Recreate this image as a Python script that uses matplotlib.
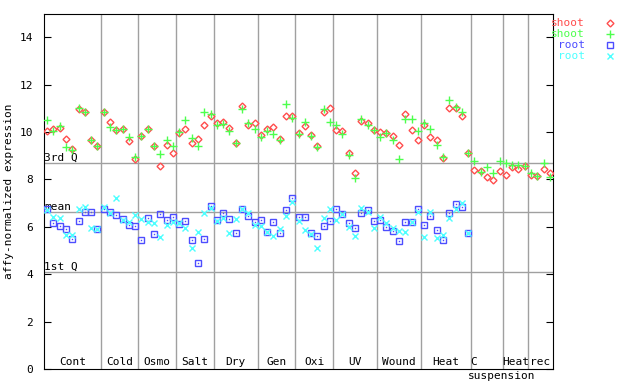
import numpy as np
import matplotlib
matplotlib.use("Agg")
import matplotlib.pyplot as plt

plt.rcParams['font.family'] = ['DejaVu Sans Mono']
plt.rcParams['font.size'] = 8

groups = ['Cont', 'Cold', 'Osmo', 'Salt', 'Dry', 'Gen', 'Oxi', 'UV', 'Wound', 'Heat', 'C', 'Heat', 'rec']
group_sizes = [9, 6, 6, 6, 7, 6, 6, 7, 7, 8, 5, 4, 4]

shoot_a = [10.04, 10.11, 10.18, 9.69, 9.28, 10.96, 10.83, 9.65, 9.42,
           10.84, 10.41, 10.08, 10.13, 9.62, 8.87,
           9.85, 10.14, 9.40, 8.57, 9.45, 9.11,
           9.94, 10.11, 9.52, 9.69, 10.28, 10.66,
           10.37, 10.41, 10.16, 9.52, 11.10, 10.28, 10.37,
           9.86, 10.11, 10.20, 9.69, 10.66, 10.66,
           9.94, 10.24, 9.86, 9.40, 10.83, 11.00,
           10.07, 10.03, 9.10, 8.27, 10.45, 10.37, 10.07,
           9.98, 9.94, 9.82, 9.44, 10.75, 10.07, 9.65,
           10.28, 9.78, 9.65, 8.89, 11.00, 11.00, 10.66, 9.10,
           8.38, 8.34, 8.09, 7.96, 8.34,
           8.17, 8.51, 8.43, 8.55,
           8.17, 8.13, 8.43, 8.26]
shoot_b = [10.49, 10.06, 10.25, 9.35, 9.23, 11.03, 10.83, 9.65, 9.42,
           10.83, 10.20, 10.08, 10.14, 9.80, 8.95,
           9.85, 10.14, 9.40, 9.06, 9.65, 9.40,
           9.98, 10.49, 9.73, 9.40, 10.83, 10.75,
           10.28, 10.32, 10.03, 9.52, 10.96, 10.37, 10.14,
           9.78, 10.03, 9.90, 9.65, 11.17, 10.58,
           9.90, 10.41, 9.82, 9.35, 10.96, 10.41,
           10.28, 9.90, 9.02, 8.07, 10.54, 10.28, 10.07,
           9.78, 9.94, 9.65, 8.85, 10.54, 10.54, 10.03,
           10.37, 10.14, 9.44, 8.93, 11.34, 11.04, 10.83, 9.10,
           8.76, 8.30, 8.51, 8.26, 8.76,
           8.68, 8.59, 8.59, 8.55,
           8.26, 8.13, 8.68, 8.09]
root_a = [6.74, 6.15, 6.02, 5.89, 5.47, 6.23, 6.61, 6.61, 5.92,
          6.74, 6.61, 6.49, 6.32, 6.06, 6.02,
          5.43, 6.36, 5.68, 6.53, 6.27, 6.40,
          6.11, 6.23, 5.43, 4.46, 5.47, 6.86,
          6.27, 6.57, 6.32, 5.73, 6.74, 6.44, 6.19,
          6.27, 5.77, 6.19, 5.73, 6.70, 7.20,
          6.40, 6.40, 5.73, 5.60, 6.02, 6.23,
          6.74, 6.53, 6.15, 5.94, 6.57, 6.70, 6.23,
          6.27, 5.98, 5.81, 5.39, 6.19, 6.19, 6.74,
          6.06, 6.44, 5.85, 5.43, 6.57, 6.95, 6.82, 5.73]
root_b = [6.70, 6.40, 6.36, 5.64, 5.64, 6.74, 6.82, 5.94, 5.92,
          6.82, 6.60, 7.20, 6.27, 6.19, 6.49,
          6.32, 6.19, 6.15, 5.56, 6.06, 6.19,
          6.15, 5.94, 5.09, 5.77, 6.57, 6.78,
          6.23, 6.36, 5.73, 6.32, 6.74, 6.57, 6.06,
          6.02, 5.77, 5.60, 5.89, 6.44, 7.03,
          6.23, 5.85, 5.68, 5.09, 6.36, 6.74,
          6.27, 6.55, 5.98, 5.60, 6.78, 6.61, 5.94,
          6.40, 6.15, 5.94, 5.81, 5.77, 6.19, 6.61,
          5.56, 6.61, 5.51, 5.64, 6.36, 6.74, 6.99, 5.73]

quartiles = [('3rd Q', 8.68), ('mean', 6.62), ('1st Q', 4.08)]

RED = '#ff4d4d'
GREEN = '#4dff4d'
BLUE = '#4d4dff'
CYAN = '#4dffff'
GRID = '#a0a0a0'

fig = plt.figure(figsize=(6.4, 3.84), dpi=100)
ax = fig.add_axes([44 / 640, 15 / 384, 509 / 640, 355.5 / 384])

n = len(shoot_a)
ax.set_xlim(-0.5, n - 0.5)
ax.set_ylim(0, 15)

# group separators
bounds = np.cumsum(group_sizes)
for b in bounds[:-1]:
    ax.axvline(b - 0.5, color=GRID, lw=1, zorder=1)
for name, q in quartiles:
    ax.axhline(q, color=GRID, lw=1, zorder=1)
    ax.text(-0.45, q + 0.02, name, ha='left', va='bottom', zorder=2)

xs = np.arange(n)
xr = np.arange(len(root_a))
ax.plot(xs, shoot_a, ls='none', marker='D', ms=3.5, mfc='none', mec=RED, mew=1, zorder=3)
ax.plot(xs, shoot_b, ls='none', marker='+', ms=6, mec=GREEN, mew=1, zorder=4)
ax.plot(xr, root_a, ls='none', marker='s', ms=4.5, mfc='none', mec=BLUE, mew=1, zorder=3)
ax.plot(xr, root_a, ls='none', marker='s', ms=1, mfc=BLUE, mec=BLUE, mew=0, zorder=3)
ax.plot(xr, root_b, ls='none', marker='x', ms=5, mec=CYAN, mew=1, zorder=4)

# group labels
starts = np.concatenate([[0], bounds[:-1]])
for name, s, sz in zip(groups, starts, group_sizes):
    cx = s + (sz - 1) / 2
    if name == 'C':
        cx = s - 0.2
    ax.text(cx, 0.1, name, ha='center', va='bottom')
ax.text(bounds[9] + 4.4, -0.3, 'suspension', ha='center', va='center', clip_on=False)

ax.set_xticks([])
ax.set_yticks(np.arange(0, 15, 2))
ax.tick_params(axis='y', direction='in', length=5, pad=8, right=True)
ax.set_ylabel('affy-normalized expression', labelpad=4)

# legend
leg = [('shoot', RED, 'D', 3.5), ('shoot', GREEN, '+', 6), ('root', BLUE, 's', 4.5), ('root', CYAN, 'x', 5)]
for k, (lab, col, mk, ms) in enumerate(leg):
    yy = 1 - (23 + 11 * k) / 384
    fig.text(585 / 640, yy, lab, color=col, ha='right', va='center')
    fig.lines.append(plt.Line2D([610 / 640], [yy], transform=fig.transFigure, ls='none',
                                marker=mk, ms=ms, mfc='none', mec=col, mew=1))

fig.savefig('out.png', dpi=100)
